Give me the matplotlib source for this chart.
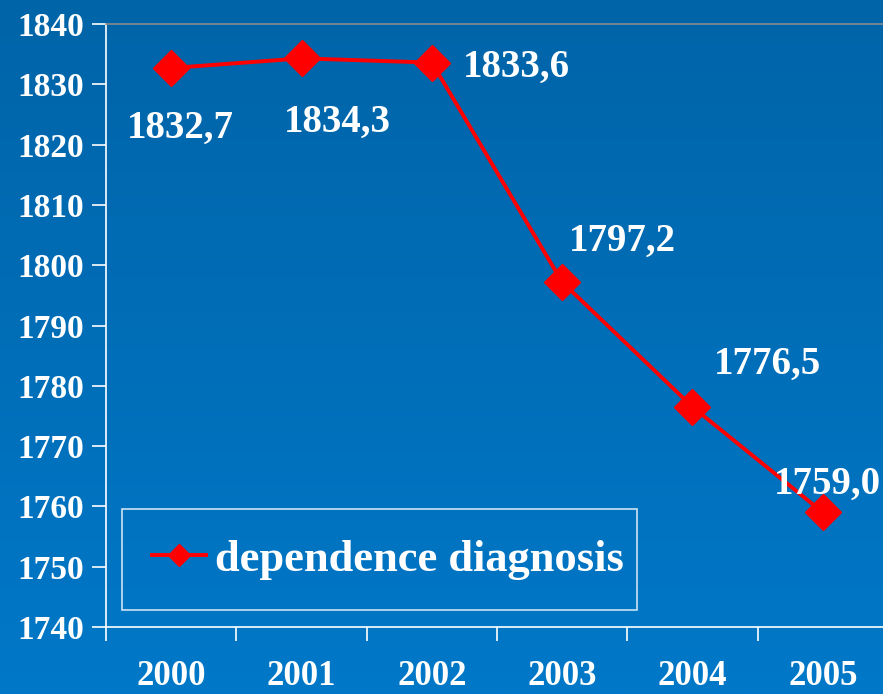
import matplotlib.pyplot as plt
import numpy as np
from matplotlib.ticker import FixedLocator

# data
years = ["2000", "2001", "2002", "2003", "2004", "2005"]
values = [1832.7, 1834.3, 1833.6, 1797.2, 1776.5, 1759.0]
labels = ["1832,7", "1834,3", "1833,6", "1797,2", "1776,5", "1759,0"]
# label offsets from each point, in pixels
offsets = [(9, -60), (36, -64), (85, -5), (60, 41), (75, 43), (5, 28)]

serif = ["Liberation Serif", "DejaVu Serif"]

fig = plt.figure(figsize=(8.83, 6.94), dpi=100)

# blue gradient background
bg = fig.add_axes([0, 0, 1, 1], zorder=-10)
grad = np.linspace(0, 1, 256).reshape(-1, 1)
top = np.array([0x00, 0x64, 0xA8]) / 255
bot = np.array([0x00, 0x78, 0xC8]) / 255
img = top + grad[..., None] * (bot - top)
bg.imshow(img, aspect="auto", extent=[0, 1, 0, 1])
bg.axis("off")

ax = fig.add_axes([106 / 883, 1 - 627 / 694, 782 / 883, 603 / 694])
ax.patch.set_alpha(0)

x = np.arange(len(years))
ax.plot(x, values, color="#FF0000", lw=2.8, marker="D", markersize=18,
        label="dependence diagnosis", clip_on=False, zorder=3)

for xi, v, lab, (dx, dy) in zip(x, values, labels, offsets):
    ax.annotate(lab, (xi, v), xytext=(dx, dy), textcoords="offset pixels",
                ha="center", va="center", color="white", fontsize=28,
                fontweight="bold", family=serif, annotation_clip=False)

ax.set_xlim(-0.5, 5.5)
ax.set_ylim(1740, 1840)
ax.set_yticks(np.arange(1740, 1841, 10))
ax.set_xticks(x)
ax.set_xticklabels(years)
ax.xaxis.set_minor_locator(FixedLocator(np.arange(-0.5, 6, 1)))

for lab in ax.get_yticklabels():
    lab.set_family(serif)
    lab.set_fontweight("bold")
    lab.set_color("white")
    lab.set_fontsize(24)
for lab in ax.get_xticklabels():
    lab.set_family(serif)
    lab.set_fontweight("bold")
    lab.set_color("white")
    lab.set_fontsize(25)

ax.tick_params(axis="y", direction="out", length=10, width=1.2, color="white", pad=6)
ax.tick_params(axis="x", which="major", length=0, pad=24)
ax.tick_params(axis="x", which="minor", direction="out", length=10, width=1.2, color="white")

for s in ["left", "bottom"]:
    ax.spines[s].set_color("white")
    ax.spines[s].set_linewidth(1.2)
ax.spines["top"].set_color("#8a8a8a")
ax.spines["top"].set_linewidth(1.2)
ax.spines["right"].set_visible(False)

leg = ax.legend(loc="lower left", bbox_to_anchor=(0.0205, 0.0282, 0.6586, 0.1),
                mode="expand", frameon=True, fancybox=False, markerscale=0.6,
                handlelength=1.2, borderpad=0.68, handletextpad=0.22,
                borderaxespad=0,
                prop={"family": serif, "size": 32, "weight": "bold"})
leg.get_frame().set_facecolor("none")
leg.get_frame().set_edgecolor("white")
leg.get_frame().set_linewidth(1.2)
for t in leg.get_texts():
    t.set_color("white")

fig.savefig("out.png", dpi=100)
